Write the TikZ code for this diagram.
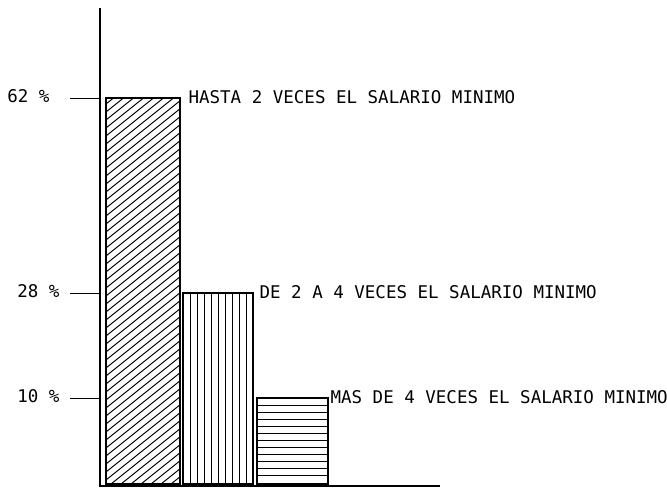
\documentclass[tikz,border=0pt]{standalone}
\usepackage{fontspec}
\newfontfamily\typefont{DejaVu Sans Mono}
\usetikzlibrary{positioning}

\begin{document}
\begin{tikzpicture}
[x=1pt,y=-1pt,line width=1.2pt,
  value node/.style={font=\typefont\fontsize{17.5}{18}\selectfont,inner sep=0pt,anchor=base east},
  text node/.style={font=\typefont\fontsize{17.5}{18}\selectfont,inner sep=0pt,anchor=base west},
  hatch/.style={line width=1pt}]
  \useasboundingbox (0,0) rectangle (667,488);

  % axes
  \coordinate (top) at (100,8);
  \coordinate (origin) at (100,486);
  \coordinate (right) at (440,486);
  \draw (top) -- (origin) -- (right);

  % bars
  \coordinate (hasta sw) at (106,484);  \coordinate (hasta ne) at (180,98);
  \coordinate (dos sw) at (183,484);    \coordinate (dos ne) at (253,293);
  \coordinate (mas sw) at (257,484);    \coordinate (mas ne) at (328,398);

  \begin{scope}
    \clip (hasta sw) rectangle (hasta ne);
    \foreach \y in {104,112,...,568}
      \draw[hatch] (106,\y) -- ++(80,-64);
  \end{scope}
  \begin{scope}
    \clip (dos sw) rectangle (dos ne);
    \foreach \x in {190,197,...,250}
      \draw[hatch] (\x,293) -- (\x,484);
  \end{scope}
  \begin{scope}
    \clip (mas sw) rectangle (mas ne);
    \foreach \y in {405,412,...,480}
      \draw[hatch] (257,\y) -- (328,\y);
  \end{scope}

  \draw (hasta sw) rectangle (hasta ne);
  \draw (dos sw) rectangle (dos ne);
  \draw (mas sw) rectangle (mas ne);

  % ticks and values
  \node [value node] (v62) at (50,102) {62 \%};
  \node [value node] (v28) at (60,297) {28 \%};
  \node [value node] (v10) at (60,402) {10 \%};
  \coordinate (t62) at (70,98);   \coordinate (a62) at (100,98);
  \coordinate (t28) at (70,293);  \coordinate (a28) at (100,293);
  \coordinate (t10) at (70,398);  \coordinate (a10) at (100,398);
  \foreach \v in {62,28,10}
    \draw[line width=1pt] (t\v) -- (a\v);

  % bar labels
  \node [text node] (hasta) at (188,103) {HASTA 2 VECES EL SALARIO MINIMO};
  \node [text node] (dos) at (259,298) {DE 2 A 4 VECES EL SALARIO MINIMO};
  \node [text node] (mas) at (330,403) {MAS DE 4 VECES EL SALARIO MINIMO};

\end{tikzpicture}
\end{document}
